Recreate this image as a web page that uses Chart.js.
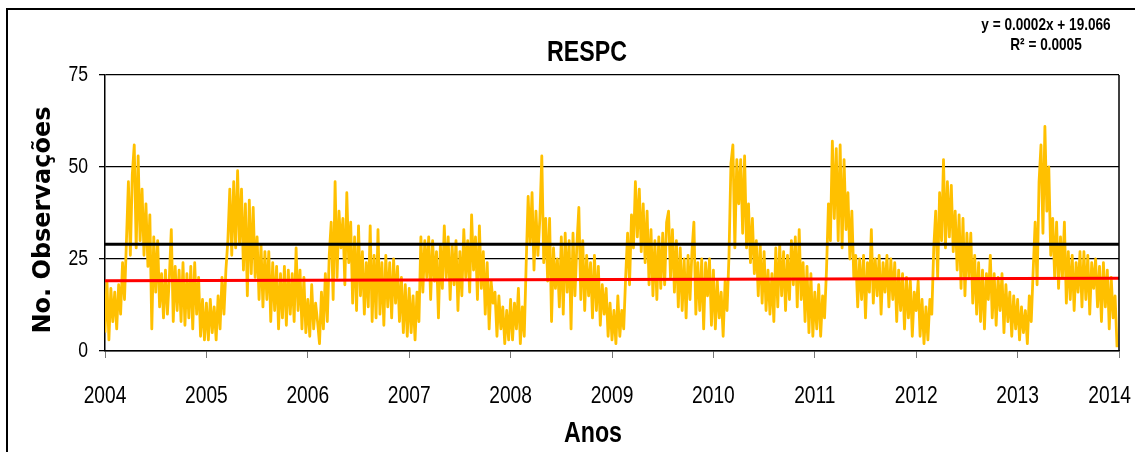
<!DOCTYPE html>
<html>
<head>
<meta charset="utf-8">
<title>RESPC</title>
<script src="https://cdn.jsdelivr.net/npm/chart.js@4/dist/chart.umd.min.js"></script>
<style>
  html, body { margin: 0; padding: 0; background: #fff; }
  canvas { display: block; }
</style>
</head>
<body>
<canvas id="chart" width="1135" height="452"></canvas>
<script>
// Daily observation counts, summarised as weekly readings (52 per year)
const years = [2004, 2005, 2006, 2007, 2008, 2009, 2010, 2011, 2012, 2013];
const obs2004 = [5,19,3,17,8,16,6,18,10,24,14,30,46,26,48,56,28,53,30,44,26,40,23,37,6,31,16,30,12,21,9,22,10,20,33,8,23,11,22,8,24,7,21,9,23,6,24,10,20,4,14,3];
const obs2005 = [13,3,14,5,12,3,15,6,20,10,22,30,44,26,46,28,49,29,44,22,40,15,41,21,39,20,31,14,29,12,27,14,27,8,24,11,23,6,21,9,23,7,22,10,21,8,28,11,22,6,20,5];
const obs2006 = [14,4,18,6,13,8,2,16,6,21,8,26,35,14,46,20,38,28,36,18,43,24,35,13,31,11,34,15,27,10,24,12,34,8,26,9,33,10,24,7,26,12,24,9,25,13,23,8,20,5,18,4];
const obs2007 = [17,5,15,3,16,8,31,16,30,20,31,14,30,19,27,9,29,17,34,20,31,14,29,18,30,11,27,15,33,20,30,16,37,22,31,14,34,17,27,10,24,6,19,13,16,4,15,6,12,2,11,3];
const obs2008 = [14,3,13,6,17,2,12,4,24,42,29,43,22,38,26,36,53,24,36,19,36,8,28,17,25,12,31,10,32,16,30,6,32,15,29,39,14,30,11,26,15,24,9,26,11,23,7,18,10,17,4,13];
const obs2009 = [3,11,2,15,4,11,6,20,32,18,37,28,46,31,44,27,40,24,38,18,33,15,30,14,31,17,32,18,35,38,20,33,16,30,12,28,11,25,9,26,14,27,35,10,24,11,25,6,24,15,25,7];
const obs2010 = [22,6,19,9,16,4,19,11,26,51,56,28,52,40,52,32,53,28,40,24,36,21,30,15,29,13,27,11,22,10,21,8,28,12,29,15,27,11,26,14,30,18,31,12,33,14,24,8,23,5,21,4];
const obs2011 = [16,6,18,4,15,9,22,40,30,57,36,55,30,56,28,52,33,43,25,38,20,26,12,25,14,26,9,24,16,33,13,25,15,26,10,24,16,26,12,25,14,24,8,22,11,21,6,20,9,19,4,16];
const obs2012 = [11,19,4,14,2,12,3,14,10,28,38,20,43,30,52,28,46,31,45,27,38,22,37,17,36,15,32,20,32,13,26,10,24,8,22,6,21,14,26,9,21,7,20,11,21,5,18,8,16,4,15,6];
const obs2013 = [14,3,12,5,11,2,15,8,22,35,18,46,56,32,61,38,50,26,36,20,35,17,31,20,35,13,27,14,26,11,24,16,27,12,27,14,26,10,24,17,25,12,23,8,24,12,22,6,20,9,15,1];
const yearlyObs = [obs2004, obs2005, obs2006, obs2007, obs2008, obs2009, obs2010, obs2011, obs2012, obs2013];

// Axis ticks
const yTicks = [0, 25, 50, 75];
const xTicks = [2004, 2005, 2006, 2007, 2008, 2009, 2010, 2011, 2012, 2013, 2014];

// Reference level and linear trend (x counted in days)
const thresholdLevel = 29;
const trendSlope = 0.0002;
const trendIntercept = 19.066;
const trendR2 = 0.0005;
const trendDays = 3653;

const chartTitle = 'RESPC';
const yTitle = 'No. Observações';
const xTitle = 'Anos';

const SANS = "'Liberation Sans', Arial, sans-serif";
const WIDE_BOLD = "'DejaVu Sans', 'Liberation Sans', sans-serif";
const NARROW_X = 0.8; // horizontal condensing applied to the Arial-style labels

const xMin = xTicks[0];
const xMax = xTicks[xTicks.length - 1];

// Build {x, y} points: x is the fractional year of each weekly reading
const seriesPoints = [];
yearlyObs.forEach((vals, yi) => {
  vals.forEach((v, k) => seriesPoints.push({ x: years[yi] + k / vals.length, y: v }));
});
const thresholdPoints = [{ x: xMin, y: thresholdLevel }, { x: xMax, y: thresholdLevel }];
const trendPoints = [
  { x: xMin, y: trendIntercept },
  { x: xMax, y: trendIntercept + trendSlope * trendDays }
];
const eqLines = [
  'y = ' + trendSlope.toFixed(4) + 'x + ' + trendIntercept.toFixed(3),
  'R\u00B2 = ' + trendR2.toFixed(4)
];

// Draw text squeezed horizontally so it reads like a narrow face
function narrowText(ctx, text, x, y, font, align) {
  ctx.save();
  ctx.font = font;
  ctx.textAlign = align;
  ctx.textBaseline = 'middle';
  ctx.translate(x, y);
  ctx.scale(NARROW_X, 1);
  ctx.fillText(text, 0, 0);
  ctx.restore();
}

const decor = {
  id: 'decor',
  beforeDraw(chart) {
    const ctx = chart.ctx;
    ctx.save();
    ctx.fillStyle = '#ffffff';
    ctx.fillRect(0, 0, chart.width, chart.height);
    ctx.fillStyle = '#000000';
    ctx.fillRect(6, 8, 2, chart.height - 8);
    ctx.fillRect(6, 8, chart.width - 6, 2);
    ctx.restore();
  },
  afterDraw(chart) {
    const { ctx, chartArea, scales } = chart;
    ctx.save();
    // right edge of the plot box
    ctx.strokeStyle = '#000';
    ctx.lineWidth = 1.5;
    ctx.beginPath();
    ctx.moveTo(chartArea.right, chartArea.top);
    ctx.lineTo(chartArea.right, chartArea.bottom);
    ctx.stroke();
    ctx.fillStyle = '#000';

    // y tick labels
    yTicks.forEach(v => {
      narrowText(ctx, String(v), chartArea.left - 17, scales.y.getPixelForValue(v), '22px ' + SANS, 'right');
    });
    // x tick labels (kept inside the canvas at the right end)
    const xFont = '24px ' + SANS;
    ctx.font = xFont;
    xTicks.forEach(v => {
      const label = String(v);
      const half = ctx.measureText(label).width * NARROW_X / 2;
      const px = Math.min(scales.x.getPixelForValue(v), chart.width - half - 4);
      narrowText(ctx, label, px, chartArea.bottom + 45, xFont, 'center');
    });

    // titles
    narrowText(ctx, chartTitle, 587, 53, 'bold 29px ' + SANS, 'center');
    narrowText(ctx, xTitle, (chartArea.left + chartArea.right) / 2 - 19, 434, 'bold 29px ' + SANS, 'center');
    narrowText(ctx, eqLines[0], 1046, 25, 'bold 17px ' + SANS, 'center');
    narrowText(ctx, eqLines[1], 1046, 45, 'bold 17px ' + SANS, 'center');

    // rotated y-axis title
    ctx.save();
    ctx.translate(44, 220);
    ctx.rotate(-Math.PI / 2);
    ctx.font = 'bold 24px ' + WIDE_BOLD;
    ctx.textAlign = 'center';
    ctx.textBaseline = 'middle';
    ctx.fillText(yTitle, 0, 0);
    ctx.restore();

    ctx.restore();
  }
};

new Chart(document.getElementById('chart'), {
  type: 'line',
  data: {
    datasets: [
      {
        data: seriesPoints,
        borderColor: '#FFC000',
        borderWidth: 2.8,
        borderJoinStyle: 'round',
        pointRadius: 0,
        tension: 0,
        order: 3
      },
      {
        data: thresholdPoints,
        borderColor: '#000000',
        borderWidth: 3,
        pointRadius: 0,
        order: 2
      },
      {
        data: trendPoints,
        borderColor: '#FF0000',
        borderWidth: 3,
        pointRadius: 0,
        order: 1
      }
    ]
  },
  options: {
    responsive: false,
    animation: false,
    devicePixelRatio: 1,
    layout: { padding: { left: 0, right: 16, top: 75, bottom: 0 } },
    plugins: {
      legend: { display: false },
      tooltip: { enabled: false },
      title: { display: false }
    },
    scales: {
      x: {
        type: 'linear',
        min: xMin,
        max: xMax,
        afterFit(scale) {
          scale.height = 101;
          scale.paddingLeft = 0;
          scale.paddingRight = 0;
        },
        afterBuildTicks(scale) { scale.ticks = xTicks.map(v => ({ value: v })); },
        ticks: { display: false },
        grid: { drawOnChartArea: false, drawTicks: true, tickLength: 7, color: '#777', lineWidth: 1 },
        border: { display: true, color: '#000', width: 1.5 }
      },
      y: {
        min: 0,
        max: 75,
        z: 1,
        afterFit(scale) { scale.width = 105; scale.paddingTop = 0; scale.paddingBottom = 0; },
        afterBuildTicks(scale) { scale.ticks = yTicks.map(v => ({ value: v })); },
        ticks: { display: false },
        grid: { color: '#000', lineWidth: 1.3, drawTicks: true, tickLength: 6 },
        border: { display: true, color: '#000', width: 1.5 }
      }
    }
  },
  plugins: [decor]
});
</script>
</body>
</html>
